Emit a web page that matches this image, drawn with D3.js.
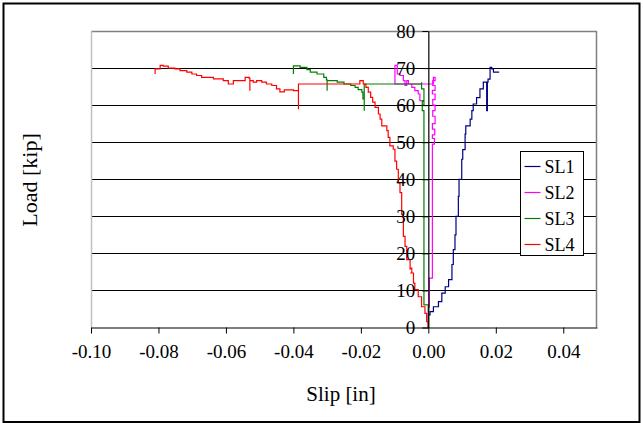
<!DOCTYPE html>
<html><head><meta charset="utf-8">
<script src="https://cdn.jsdelivr.net/npm/d3@7"></script>
<style>body{margin:0;background:#fff}svg{display:block}text{font-family:"Liberation Serif","Times New Roman",serif}</style>
</head><body><svg id="c" width="643" height="423"></svg>
<script>
const seriesNames = ["SL1","SL2","SL3","SL4"];
const seriesColors = ["#000080","#FF00FF","#008000","#FF0000"];
const xTicks = [-0.10,-0.08,-0.06,-0.04,-0.02,0.00,0.02,0.04];
const yTicks = [0,10,20,30,40,50,60,70,80];

const sl1 = [[0,0],[0,2],[0.0005,3.4],[0.0015,4.3],[0.003,5.6],[0.004,7],[0.005,9.3],[0.006,11],[0.007,12.9],[0.0074,17],[0.0079,21],[0.0082,25],[0.0089,30],[0.0091,35.4],[0.0099,40],[0.0102,45.4],[0.0109,48],[0.0109,49],[0.0111,52.2],[0.0124,54.4],[0.0129,56.2],[0.0133,58.5],[0.0143,60.3],[0.0153,62],[0.0163,64.4],[0.0173,66.2],[0.0175,58.5],[0.0177,66.2],[0.0183,67],[0.0188,70.2],[0.0193,69.8],[0.0203,68.9],[0.021,68.9]];
const sl2 = [[0,0],[0,5.5],[0.0003,5.5],[0.0003,13.3],[0.0012,13.3],[0.0012,49],[0.0018,49.5],[0.0012,51],[0.0019,52],[0.0012,53.5],[0.002,55],[0.0013,57],[0.002,58.5],[0.0013,60],[0.002,61.5],[0.0012,63],[0.002,64],[0.0013,65.3],[0.002,66.6],[0.0015,67.5],[0.0015,65.7],[-0.0099,65.7],[-0.0099,68.9],[-0.0099,70.7],[-0.0092,70.7],[-0.0092,68.9],[-0.0084,68.4],[-0.0074,68],[-0.0069,66.6],[-0.0064,65.3],[-0.0059,66.6],[-0.0049,65.7],[-0.004,64.8],[-0.003,63.9],[-0.0025,63],[-0.002,61.2]];
const sl3 = [[0,0],[0,6.1],[-0.0013,6.1],[-0.0013,58.5],[-0.0018,58.5],[-0.0013,61],[-0.0018,60],[-0.0013,61.2],[-0.0013,63.5],[-0.002,64.4],[-0.002,66.2],[-0.019,65.7],[-0.019,58.5],[-0.0194,61.7],[-0.0197,63.5],[-0.0208,64.2],[-0.0217,64.8],[-0.023,65.3],[-0.025,65.7],[-0.027,66.2],[-0.029,66.6],[-0.030,66.6],[-0.030,63.9],[-0.0302,66.8],[-0.031,67.5],[-0.033,68.4],[-0.035,68.9],[-0.036,69.6],[-0.038,70.2],[-0.040,70.6],[-0.040,68.4]];
const sl4 = [[0,0],[0,0.2],[-0.0005,1.6],[-0.001,3.8],[-0.002,5.6],[-0.003,8.3],[-0.004,10.2],[-0.0044,12],[-0.0054,14.7],[-0.0049,14.7],[-0.0049,16],[-0.0054,16],[-0.0054,15.6],[-0.0064,18.3],[-0.0069,21.9],[-0.0074,24.6],[-0.0079,30.5],[-0.0084,36.4],[-0.0089,39],[-0.0094,42.7],[-0.0099,44.9],[-0.0104,48.1],[-0.0114,49],[-0.0119,51.3],[-0.0123,53.1],[-0.0138,54.4],[-0.0143,56.2],[-0.0148,57.6],[-0.0158,59.4],[-0.0165,60.8],[-0.0171,62.1],[-0.0178,63.5],[-0.0185,64.8],[-0.0193,65.7],[-0.0203,66.6],[-0.0385,65.7],[-0.0385,58.9],[-0.0385,63.9],[-0.040,63.9],[-0.0427,64.1],[-0.044,63.6],[-0.045,64.4],[-0.0464,65.3],[-0.048,65.7],[-0.0494,66.2],[-0.0509,66.6],[-0.0519,66.2],[-0.0529,66.6],[-0.0529,63.9],[-0.0531,67.2],[-0.0539,67.5],[-0.0543,67.5],[-0.0578,66.6],[-0.0593,65.7],[-0.0608,66.6],[-0.0637,67.1],[-0.0652,67.5],[-0.0672,67.5],[-0.0687,68],[-0.0701,68.4],[-0.0716,68.9],[-0.0736,69.3],[-0.0751,69.8],[-0.0771,70],[-0.0786,70.5],[-0.0795,70.7],[-0.080,69.8],[-0.081,69.8],[-0.081,68.4]];
const seriesData = [sl1, sl2, sl3, sl4];

const svg = d3.select("#c");
const L = 91, R = 597, T = 31, B = 327.5;
const x = d3.scaleLinear().domain([-0.10, 0.05]).range([L, R]);
const y = d3.scaleLinear().domain([0, 80]).range([B, T]);

// outer border
svg.append("rect").attr("x",3.5).attr("y",3.5).attr("width",636).attr("height",418.5)
  .attr("fill","#fff").attr("stroke","#000").attr("stroke-width",2);

// gridlines
svg.append("g").selectAll("line").data(yTicks.filter(d=>d>0 && d<80)).join("line")
  .attr("x1",L).attr("x2",R).attr("y1",d=>Math.round(y(d))+0.5).attr("y2",d=>Math.round(y(d))+0.5)
  .attr("stroke","#000").attr("stroke-width",1);

// plot border
svg.append("line").attr("x1",L).attr("x2",R).attr("y1",T+0.5).attr("y2",T+0.5).attr("stroke","#808080").attr("stroke-width",1.5);
svg.append("line").attr("x1",L+0.5).attr("x2",L+0.5).attr("y1",T).attr("y2",B).attr("stroke","#c0c0c0").attr("stroke-width",1.5);
svg.append("line").attr("x1",R-0.5).attr("x2",R-0.5).attr("y1",T).attr("y2",B).attr("stroke","#808080").attr("stroke-width",1.5);

// series
const line = d3.line().x(d=>x(d[0])).y(d=>y(d[1])).curve(d3.curveStepBefore);
seriesData.forEach((s,i)=>{
  svg.append("path").datum(s).attr("d",line).attr("fill","none")
    .attr("stroke",seriesColors[i]).attr("stroke-width",1.2);
});

// x axis at y=0
const xAxis = d3.axisBottom(x).tickValues(xTicks).tickFormat(d3.format(".2f")).tickSize(6).tickSizeOuter(0);
const gx = svg.append("g").attr("transform",`translate(0,${B})`).call(xAxis);
gx.select(".domain").attr("stroke","#000").attr("stroke-width",1.2);
gx.selectAll(".tick line").attr("stroke","#000");
gx.selectAll(".tick text").attr("font-size",19).attr("fill","#000").attr("dy","1.15em")
  .text(d=>d<0?"-"+d3.format(".2f")(-d):d3.format(".2f")(d));

// y axis at x=0
const yAxis = d3.axisLeft(y).tickValues(yTicks).tickSize(6).tickSizeOuter(0);
const gy = svg.append("g").attr("transform",`translate(${x(0)},0)`).call(yAxis);
gy.select(".domain").attr("stroke","#000").attr("stroke-width",1.2);
gy.selectAll(".tick line").attr("stroke","#000");
gy.selectAll(".tick text").attr("font-size",19).attr("fill","#000").attr("x",-13);

// titles
svg.append("text").attr("x",(L+R)/2-3).attr("y",401).attr("text-anchor","middle").attr("font-size",21).text("Slip [in]");
svg.append("text").attr("transform","translate(37,180) rotate(-90)").attr("text-anchor","middle").attr("font-size",22).text("Load [kip]");

// legend
const lg = svg.append("g").attr("transform","translate(520.5,151.5)");
lg.append("rect").attr("width",63).attr("height",104).attr("fill","#fff").attr("stroke","#000").attr("stroke-width",1);
seriesNames.forEach((n,i)=>{
  const yy = 15 + i*26;
  lg.append("line").attr("x1",4).attr("x2",20).attr("y1",yy).attr("y2",yy).attr("stroke",seriesColors[i]).attr("stroke-width",1.2);
  lg.append("text").attr("x",24).attr("y",yy+6).attr("font-size",18).text(n);
});
</script></body></html>
